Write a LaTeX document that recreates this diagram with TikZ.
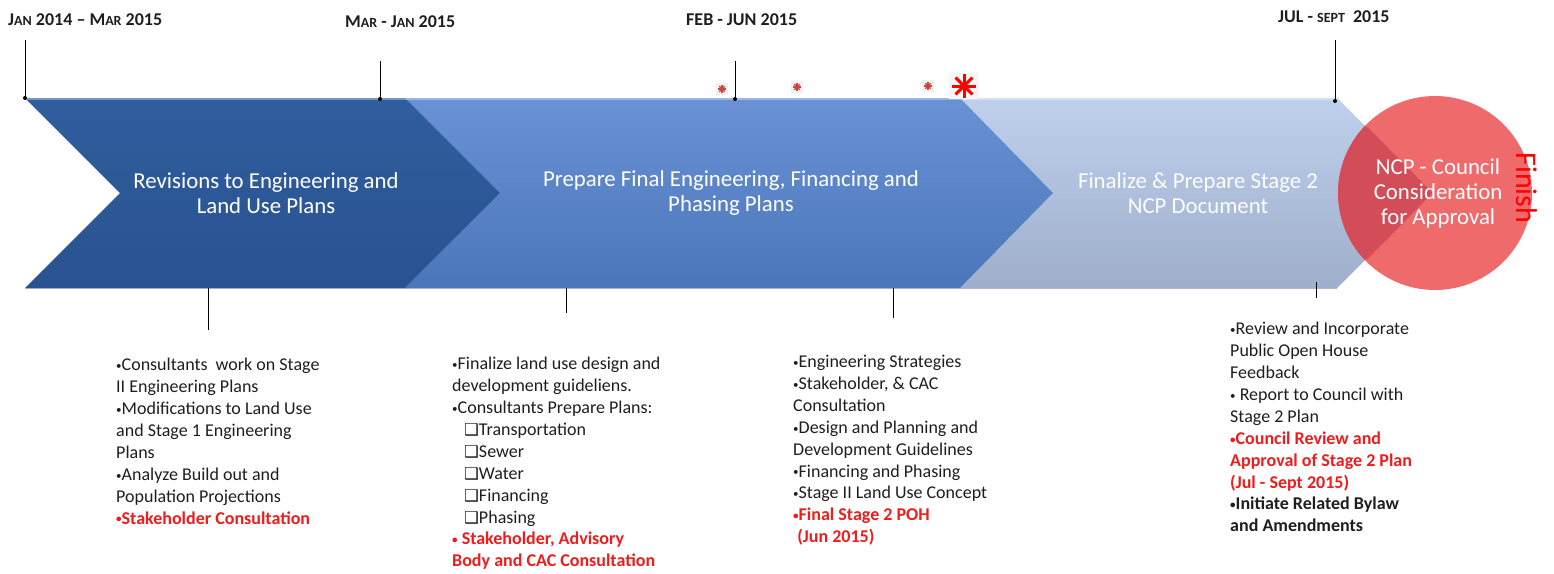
\documentclass[tikz,border=0pt]{standalone}
\usepackage{fontspec}
\setmainfont{Carlito}
\newfontfamily\dejavu{DejaVu Sans}
\usetikzlibrary{calc}

\definecolor{darkblue}{HTML}{2F5E9E}
\definecolor{darkblueB}{HTML}{2A5290}
\definecolor{midblue}{HTML}{6891D6}
\definecolor{midblueB}{HTML}{4C76BA}
\definecolor{paleblue}{HTML}{BFD0EC}
\definecolor{paleblueB}{HTML}{9EAECB}
\definecolor{finishred}{HTML}{EF6B6B}
\definecolor{overlapred}{HTML}{D24D57}
\definecolor{notered}{HTML}{EE1C1C}
\definecolor{inkgray}{HTML}{1E1E1E}
\definecolor{starred}{HTML}{C8463E}

\newcommand\lowcaps[1]{{\fontsize{14}{14}\selectfont #1}}
\newcommand\bul{\raisebox{1.2pt}{\fontsize{11}{11}\selectfont •}}
\newcommand\boxitem[1]{\hspace*{12pt}{\dejavu\bfseries\fontsize{16.5}{16.5}\selectfont ❑}#1}

\tikzset{
  datelabel/.style={anchor=base west, inner sep=0pt, font=\fontsize{18}{18}\selectfont\bfseries, text=inkgray},
  notes/.style={anchor=north west, inner sep=0pt, align=left, font=\fontsize{18}{21.9}\selectfont, text=inkgray},
  stagetext/.style={inner sep=0pt, align=center, font=\fontsize{22.8}{25}\selectfont, text=white},
  tick/.style={draw=black, line width=0.8pt},
  tickdot/.style={fill=black},
  hilite/.style={draw=white, opacity=0.35, line width=1.5pt},
}

\newcommand\asterisk[4]{% centre, radius, colour, width
  \foreach \a in {0,45,90,135}{
    \draw[#3, line width=#4] ($(#1)+(\a:#2)$) -- ($(#1)+(\a+180:#2)$);
  }
}

\begin{document}
\begin{tikzpicture}[x=1pt,y=-1pt]
\useasboundingbox (0,0) rectangle (1554,573);

% ---- stage arrows (right to left so each left arrow sits on top) ----
\path[top color=paleblue, bottom color=paleblueB]
  (960,98) -- (1337,98) -- (1432,193) -- (1337,288) -- (960,288) -- (1053,193) -- cycle;
\path[top color=midblue, bottom color=midblueB]
  (405,98) -- (960,98) -- (1053,193) -- (960,288) -- (405,288) -- (500,193) -- cycle;
\path[top color=darkblue, bottom color=darkblueB]
  (25,98) -- (405,98) -- (500,193) -- (405,288) -- (25,288) -- (120,193) -- cycle;
\draw[hilite] (25,99) -- (1337,99);
\draw[black, opacity=0.25, line width=1pt] (25,288.5) -- (1337,288.5);

% ---- finish circle, semi-transparent over the last arrow ----
\fill[finishred] (1435,193) circle (97);
\begin{scope}
  \clip (960,98) -- (1337,98) -- (1432,193) -- (1337,288) -- (960,288) -- (1053,193) -- cycle;
  \fill[overlapred] (1435,193) circle (97);
\end{scope}
\draw[overlapred, line width=0.8pt] (1367,127) -- (1432,193) -- (1367,259);

% ---- stage titles ----
\node[stagetext] (s1) at (266,193) {Revisions to Engineering and\\Land Use Plans};
\node[stagetext] (s2) at (731,193) {Prepare Final Engineering, Financing and\\Phasing Plans};
\node[stagetext, text=white!96!paleblue] (s3) at (1198,193) {Finalize \& Prepare Stage 2\\NCP Document};
\node[stagetext] (s4) at (1438,193) {NCP - Council\\Consideration\\for Approval};
\node[inner sep=0pt, rotate=-90, text=red, font=\fontsize{30}{30}\selectfont] (fin) at (1527,188) {Finish};

% ---- date labels ----
\node[datelabel] (d1) at (8,25) {J\lowcaps{AN} 2014 – M\lowcaps{AR} 2015};
\node[datelabel] (d2) at (345,27) {M\lowcaps{AR} - J\lowcaps{AN} 2015};
\node[datelabel] (d3) at (686,25) {FEB - JUN 2015};
\node[datelabel] (d4) at (1278,22) {JUL - \lowcaps{SEPT}\ \ 2015};

% ---- tick marks above the arrows ----
\coordinate (t1a) at (25,40);   \coordinate (t1b) at (25,98);
\coordinate (t2a) at (380,61);  \coordinate (t2b) at (380,99);
\coordinate (t3a) at (735,61);  \coordinate (t3b) at (735,99);
\coordinate (t4a) at (1335,40); \coordinate (t4b) at (1335,101);
\foreach \t in {1,2,3,4}{
  \draw[tick] (t\t a) -- (t\t b);
  \fill[tickdot] (t\t b) circle (2);
}

% ---- tick marks below the arrows ----
\coordinate (b1a) at (208,288);  \coordinate (b1b) at (208,330);
\coordinate (b2a) at (566,288);  \coordinate (b2b) at (566,313);
\coordinate (b3a) at (893,288);  \coordinate (b3b) at (893,318);
\coordinate (b4a) at (1316,282); \coordinate (b4b) at (1316,298);
\foreach \t in {1,2,3,4}{
  \draw[tick] (b\t a) -- (b\t b);
}

% ---- milestone asterisks ----
\coordinate (m1) at (722,89);
\coordinate (m2) at (797,87);
\coordinate (m3) at (928,86);
\coordinate (m4) at (964,86);
\foreach \m in {m1,m2,m3}{
  \fill[black!6] ($(\m)+(-6,-6)$) rectangle ($(\m)+(6,6)$);
  \asterisk{\m}{4}{starred}{1.1pt}
}
\fill[black!4] ($(m4)+(-15,-13)$) rectangle ($(m4)+(15,13)$);
\asterisk{m4}{12}{red}{3pt}

% ---- activity notes ----
\node[notes] (n1) at (116,358) {%
\bul Consultants\ \ work on Stage\\
II Engineering Plans\\
\bul Modifications to Land Use\\
and Stage 1 Engineering\\
Plans\\
\bul Analyze Build out and\\
Population Projections\\
\textcolor{notered}{\bfseries \bul Stakeholder Consultation}};

\node[notes] (n2) at (452,357) {%
\bul Finalize land use design and\\
development guideliens.\\
\bul Consultants Prepare Plans:\\
\boxitem{Transportation}\\
\boxitem{Sewer}\\
\boxitem{Water}\\
\boxitem{Financing}\\
\boxitem{Phasing}\\
\textcolor{notered}{\bfseries \bul\ Stakeholder, Advisory}\\
\textcolor{notered}{\bfseries Body and CAC Consultation}};

\node[notes] (n3) at (793,355) {%
\bul Engineering Strategies\\
\bul Stakeholder, \& CAC\\
Consultation\\
\bul Design and Planning and\\
Development Guidelines\\
\bul Financing and Phasing\\
\bul Stage II Land Use Concept\\
\textcolor{notered}{\bfseries \bul Final Stage 2 POH}\\
\textcolor{notered}{\bfseries \ (Jun 2015)}};

\node[notes] (n4) at (1230,322) {%
\bul Review and Incorporate\\
Public Open House\\
Feedback\\
\bul\ Report to Council with\\
Stage 2 Plan\\
\textcolor{notered}{\bfseries \bul Council Review and}\\
\textcolor{notered}{\bfseries Approval of Stage 2 Plan}\\
\textcolor{notered}{\bfseries (Jul - Sept 2015)}\\
{\bfseries \bul Initiate Related Bylaw}\\
{\bfseries and Amendments}};

\end{tikzpicture}
\end{document}
